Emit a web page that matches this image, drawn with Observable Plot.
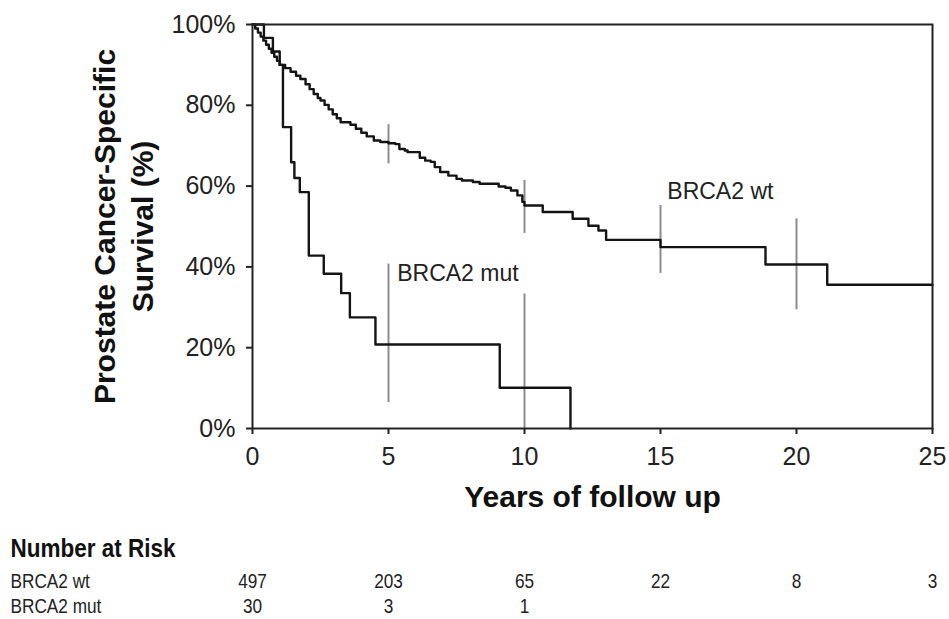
<!DOCTYPE html>
<html><head><meta charset="utf-8">
<script src="https://cdn.jsdelivr.net/npm/d3@7"></script>
<script src="https://cdn.jsdelivr.net/npm/@observablehq/plot@0.6"></script>
<style>html,body{margin:0;padding:0;background:#fff}svg{display:block}</style>
</head><body><div id="chart"></div>
<script>
// Kaplan-Meier step points (years, survival %)
const wtTime = [0, 0.1, 0.2, 0.3, 0.4, 0.5, 0.6, 0.7, 0.8, 0.9, 1.0, 1.2, 1.4, 1.6, 1.76, 1.95, 2.1, 2.25, 2.4, 2.5, 2.65, 2.8, 2.95, 3.1, 3.24, 3.6, 3.8, 4.0, 4.2, 4.46, 4.7, 5.0, 5.25, 5.4, 5.6, 5.7, 6.15, 6.35, 6.55, 6.7, 6.9, 7.2, 7.5, 7.7, 8.1, 8.35, 9.05, 9.3, 9.5, 9.74, 9.92, 10.0, 10.67, 11.77, 12.35, 12.72, 13.0, 15.0, 18.86, 21.13, 25];
const wtSurv = [100, 99, 98, 97, 96, 95, 94, 93, 92, 91, 90, 89.2, 88.3, 87.3, 86.5, 85.2, 84.0, 82.8, 81.8, 81.2, 80.1, 79.0, 77.8, 76.8, 75.8, 75.2, 74.2, 73.2, 72.3, 71.3, 70.9, 70.6, 70.4, 69.2, 68.8, 68.4, 67, 66.3, 66, 64.7, 63.5, 62.6, 61.8, 61.4, 61, 60.6, 59.9, 59.6, 58.9, 57.7, 56.1, 55.2, 53.6, 51.9, 50.2, 49.0, 46.7, 44.9, 40.6, 35.6, 35.6];
const mutTime = [0, 0.42, 0.75, 1.0, 1.12, 1.42, 1.54, 1.74, 2.07, 2.62, 3.26, 3.58, 4.52, 9.09, 11.69];
const mutSurv = [100, 96.7, 93.3, 90, 74.6, 65.9, 62.0, 58.5, 42.8, 38.3, 33.5, 27.5, 20.8, 10.1, 0];

// Confidence interval bars
const ciWtYears = [5, 10, 15, 20];
const ciWtLow = [65.5, 48.3, 38.4, 29.4];
const ciWtHigh = [75.2, 61.4, 55.2, 51.9];
const ciMutYears = [5, 10];
const ciMutLow = [6.4, 0];
const ciMutHigh = [40.7, 33.3];

// Curve labels
const groupNames = ["BRCA2 wt", "BRCA2 mut"];
const labelYears = [15.25, 5.32];
const labelSurv = [58.6, 38.3];

// Ticks
const xTicks = [0, 5, 10, 15, 20, 25];
const yTicks = [0, 20, 40, 60, 80, 100];

// Number at risk
const riskTitle = "Number at Risk";
const riskYears = [0, 5, 10, 15, 20, 25];
const riskWt = [497, 203, 65, 22, 8, 3];
const riskMut = [30, 3, 1];

const wt = wtTime.map((t, i) => ({t, s: wtSurv[i]}));
const mut = mutTime.map((t, i) => ({t, s: mutSurv[i]}));
const ciWt = ciWtYears.map((t, i) => ({t, lo: ciWtLow[i], hi: ciWtHigh[i]}));
const ciMut = ciMutYears.map((t, i) => ({t, lo: ciMutLow[i], hi: ciMutHigh[i]}));
const labels = groupNames.map((name, i) => ({name, t: labelYears[i], s: labelSurv[i]}));
const rowWt = riskWt.map((n, i) => ({t: riskYears[i], n}));
const rowMut = riskMut.map((n, i) => ({t: riskYears[i], n}));

const sans = "'Liberation Sans', Arial, Helvetica, sans-serif";

const plot = Plot.plot({
  width: 949,
  height: 619,
  marginLeft: 252,
  marginRight: 17,
  marginTop: 24,
  marginBottom: 191,
  style: {fontFamily: sans, color: "#222", background: "#fff"},
  x: {domain: [0, 25]},
  y: {domain: [0, 100]},
  marks: [
    Plot.ruleX(ciWt, {x: "t", y1: "lo", y2: "hi", stroke: "#8c8c8c", strokeWidth: 2}),
    Plot.ruleX(ciMut, {x: "t", y1: "lo", y2: "hi", stroke: "#8c8c8c", strokeWidth: 2}),
    Plot.line(mut, {x: "t", y: "s", curve: "step-after", stroke: "#141414", strokeWidth: 2.4}),
    Plot.line(wt, {x: "t", y: "s", curve: "step-after", stroke: "#141414", strokeWidth: 2.4}),
    Plot.frame({stroke: "#222", strokeWidth: 2}),
    Plot.axisX({ticks: xTicks, tickSize: 6, tickPadding: 13, fontSize: 25, label: null, stroke: "#222", strokeWidth: 2}),
    Plot.axisY({ticks: yTicks, tickSize: 6, tickPadding: 11, fontSize: 25, label: null, tickFormat: d => d + "%", stroke: "#222", strokeWidth: 2}),
    Plot.text(labels, {x: "t", y: "s", text: "name", textAnchor: "start", lineAnchor: "middle", fontSize: 23, fill: "#222"}),
    Plot.text(["Years of follow up"], {frameAnchor: "bottom", dy: 69, textAnchor: "middle", lineAnchor: "middle", fontWeight: "bold", fontSize: 30, fill: "#111"}),
    Plot.text(["Prostate Cancer-Specific\nSurvival (%)"], {frameAnchor: "left", rotate: -90, dx: -131, textAnchor: "middle", lineAnchor: "middle", fontWeight: "bold", fontSize: 30, lineHeight: 1.27, fill: "#111"}),
    Plot.text([riskTitle], {frameAnchor: "bottom-left", dx: -242, dy: 120, textAnchor: "start", lineAnchor: "middle", fontWeight: "bold", fontSize: 25, fill: "#111"}),
    Plot.text([groupNames[0]], {frameAnchor: "bottom-left", dx: -242, dy: 153, textAnchor: "start", lineAnchor: "middle", fontSize: 21, fill: "#222"}),
    Plot.text([groupNames[1]], {frameAnchor: "bottom-left", dx: -242, dy: 178, textAnchor: "start", lineAnchor: "middle", fontSize: 21, fill: "#222"}),
    Plot.text(rowWt, {x: "t", text: "n", frameAnchor: "bottom", dy: 153, textAnchor: "middle", lineAnchor: "middle", fontSize: 21, fill: "#222"}),
    Plot.text(rowMut, {x: "t", text: "n", frameAnchor: "bottom", dy: 178, textAnchor: "middle", lineAnchor: "middle", fontSize: 21, fill: "#222"})
  ]
});
document.getElementById("chart").appendChild(plot);

// condensed look of the number-at-risk table (narrow font substitute)
const svgTop = plot.getBoundingClientRect().top;
plot.querySelectorAll("text").forEach(el => {
  const r = el.getBoundingClientRect();
  const cy = (r.top + r.bottom) / 2 - svgTop;
  if (cy < 525) return;
  const k = el.textContent === riskTitle ? 0.9 : 0.82;
  el.setAttribute("transform", (el.getAttribute("transform") || "") + ` scale(${k},1)`);
});
</script>
</body></html>
